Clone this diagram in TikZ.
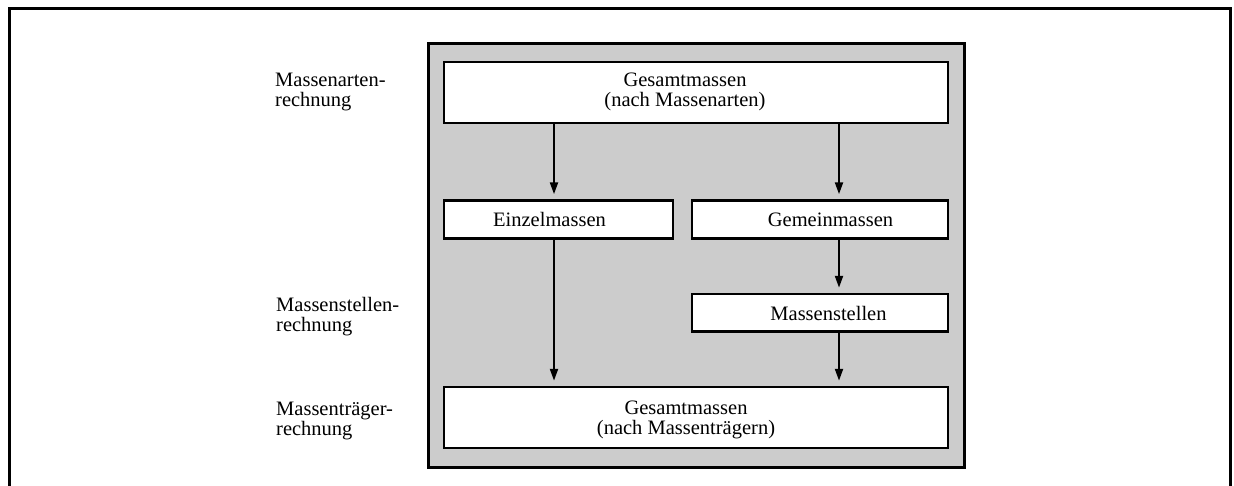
\documentclass[tikz,border=0pt]{standalone}
\usepackage{fontspec}
\setmainfont{Liberation Serif}
\usetikzlibrary{arrows.meta}

\begin{document}
\begin{tikzpicture}[x=1pt,y=-1pt,
  txt/.style={font=\fontsize{20.5}{20}\selectfont, inner sep=0pt},
  panel/.style={draw, line width=3pt, fill=black!20, inner sep=0pt},
  stage/.style={draw, line width=2.5pt, fill=white, inner sep=0pt},
  flow/.style={line width=2.2pt, -{Triangle[length=12pt,width=8pt]}, shorten >=5pt}]
\useasboundingbox (0,0) rectangle (1234,485);

% outer frame (open at the bottom)
\draw[line width=3.5pt] (9.5,495) -- (9.5,8.5) -- (1230.5,8.5) -- (1230.5,495);

% grey panel and the five stages
\node[panel, minimum width=536pt, minimum height=424pt] (panel) at (696,255) {};
\node[stage, minimum width=504pt, minimum height=61pt] (top) at (696,92.5) {};
\node[stage, minimum width=229pt, minimum height=38pt] (einzel) at (558.5,219.5) {};
\node[stage, minimum width=256pt, minimum height=38pt] (gemein) at (820,219.5) {};
\node[stage, minimum width=256pt, minimum height=37.5pt] (stellen) at (820,312.75) {};
\node[stage, minimum width=504pt, minimum height=61pt] (bottom) at (696,417.5) {};

% stage texts
\node[txt, align=center, anchor=base] (ttop) at (685,106.7) {Gesamtmassen\\(nach Massenarten)};
\node[txt, anchor=base] (teinzel) at (549.5,226.7) {Einzelmassen};
\node[txt, anchor=base] (tgemein) at (830.5,226.7) {Gemeinmassen};
\node[txt, anchor=base] (tstellen) at (828.5,320.7) {Massenstellen};
\node[txt, align=center, anchor=base] (tbottom) at (686,434.3) {Gesamtmassen\\(nach Massenträgern)};

% row labels
\node[txt, align=left, anchor=base west] (l1) at (275,106.7) {Massenarten-\\rechnung};
\node[txt, align=left, anchor=base west] (l2) at (276,331.7) {Massenstellen-\\rechnung};
\node[txt, align=left, anchor=base west] (l3) at (276,435.7) {Massenträger-\\rechnung};

% flow arrows
\coordinate (xl) at (554,0);
\coordinate (xr) at (839,0);
\draw[flow] (top.south -| xl) -- (einzel.north -| xl);
\draw[flow] (top.south -| xr) -- (gemein.north -| xr);
\draw[flow] (einzel.south -| xl) -- (bottom.north -| xl);
\draw[flow] (gemein.south -| xr) -- (stellen.north -| xr);
\draw[flow] (stellen.south -| xr) -- (bottom.north -| xr);
\end{tikzpicture}
\end{document}
